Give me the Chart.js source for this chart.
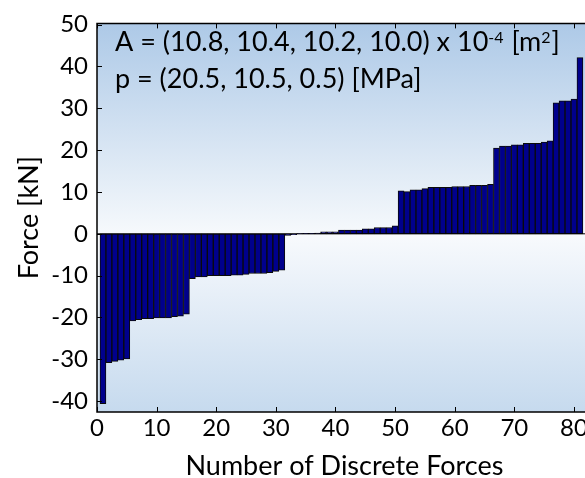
<!DOCTYPE html>
<html>
<head>
<meta charset="utf-8">
<script src="https://cdn.jsdelivr.net/npm/chart.js@4.4.1/dist/chart.umd.min.js"></script>
<style>
  html, body { margin: 0; padding: 0; background: #ffffff; overflow: hidden; }
  #wrap { width: 590px; height: 478px; }
</style>
</head>
<body>
<div id="wrap"><canvas id="chart" width="590" height="478"></canvas></div>
<script>
// Sorted discrete forces [kN]
const forceValues = [
  -40.6,
  -30.8, -30.5, -30.2, -29.9,
  -20.8, -20.5, -20.3, -20.3, -20.1, -20.1, -20.1, -19.8, -19.7, -19.2,
  -10.7, -10.3, -10.3, -10.0, -10.0, -10.0, -10.0, -9.9, -9.9, -9.7, -9.5, -9.5, -9.5, -9.3, -9.0, -8.7,
  -0.4, -0.2,
  0.05, 0.1, 0.1, 0.15,
  0.5, 0.5, 0.5,
  0.9, 0.9, 0.9, 0.9,
  1.2, 1.2,
  1.5, 1.5, 1.5,
  1.9,
  10.3, 10.1, 10.5, 10.5, 10.8, 11.1, 11.1, 11.1, 11.1, 11.3, 11.3, 11.3, 11.6, 11.6, 11.6, 11.8,
  20.5, 21.0, 21.0, 21.3, 21.3, 21.6, 21.6, 21.6, 21.9, 22.2,
  31.3, 31.8, 31.8, 32.2,
  42.1
];
// Force numbers (1-based)
const forceNumbers = forceValues.map((_, i) => i + 1);

const xTickValues = [0, 10, 20, 30, 40, 50, 60, 70, 80];
const yTickValues = [-40, -30, -20, -10, 0, 10, 20, 30, 40, 50];
const xLimits = [0, 82];
const yLimits = [-42.6, 50.3];

const xTitle = 'Number of Discrete Forces';
const yTitle = 'Force [kN]';
const areaText = ['A = (10.8, 10.4, 10.2, 10.0) x 10', '-4', ' [m', '2', ']'];
const pressureText = 'p = (20.5, 10.5, 0.5) [MPa]';

const FONT = 'Lato, "Open Sans", sans-serif';
const tickPx = 24;
const textPx = 27;

const frame = {
  id: 'frame',
  beforeDatasetsDraw(chart) {
    const { ctx, chartArea: a, scales: { y } } = chart;
    const z = y.getPixelForValue(0);
    ctx.save();
    const gTop = ctx.createLinearGradient(0, a.top, 0, z);
    gTop.addColorStop(0, '#adc9e7');
    gTop.addColorStop(1, '#f6f9fc');
    ctx.fillStyle = gTop;
    ctx.fillRect(a.left, a.top, a.right - a.left, z - a.top);
    const gBot = ctx.createLinearGradient(0, z, 0, a.bottom);
    gBot.addColorStop(0, '#f8fafd');
    gBot.addColorStop(1, '#c6daee');
    ctx.fillStyle = gBot;
    ctx.fillRect(a.left, z, a.right - a.left, a.bottom - z);
    ctx.restore();
  },
  afterDatasetsDraw(chart) {
    const { ctx, chartArea: a, scales: { x, y } } = chart;
    const z = y.getPixelForValue(0);
    ctx.save();
    ctx.strokeStyle = '#000';
    // baseline
    ctx.lineWidth = 1;
    ctx.beginPath();
    ctx.moveTo(a.left, z);
    ctx.lineTo(a.right, z);
    ctx.stroke();
    // axes box
    ctx.lineWidth = 1.5;
    ctx.beginPath();
    ctx.moveTo(a.right, a.top);
    ctx.lineTo(a.left, a.top);
    ctx.lineTo(a.left, a.bottom);
    ctx.lineTo(a.right, a.bottom);
    ctx.stroke();
    // inward tick marks
    ctx.lineWidth = 1;
    const tl = 5;
    ctx.beginPath();
    xTickValues.forEach(v => {
      const px = Math.round(x.getPixelForValue(v)) + 0.5;
      ctx.moveTo(px, a.bottom); ctx.lineTo(px, a.bottom - tl);
      ctx.moveTo(px, a.top); ctx.lineTo(px, a.top + tl);
    });
    yTickValues.forEach(v => {
      const py = Math.round(y.getPixelForValue(v)) + 0.5;
      ctx.moveTo(a.left, py); ctx.lineTo(a.left + tl, py);
    });
    ctx.stroke();

    // annotation text
    ctx.fillStyle = '#000';
    ctx.textBaseline = 'alphabetic';
    ctx.textAlign = 'left';
    const big = textPx + 'px ' + FONT;
    const small = '16px ' + FONT;
    let tx = a.left + 18;
    const b1 = 51;
    areaText.forEach((s, i) => {
      const sup = i % 2 === 1;
      ctx.font = sup ? small : big;
      ctx.fillText(s, tx, sup ? b1 - 8 : b1);
      tx += ctx.measureText(s).width + (sup ? 1 : 0);
    });
    ctx.font = big;
    ctx.fillText(pressureText, a.left + 18, 88);

    // axis titles
    ctx.font = big;
    ctx.textAlign = 'center';
    ctx.fillText(xTitle, (a.left + a.right) / 2 + 3, 475);
    ctx.textBaseline = 'middle';
    ctx.translate(29, (a.top + a.bottom) / 2);
    ctx.rotate(-Math.PI / 2);
    ctx.fillText(yTitle, 0, 0);
    ctx.restore();
  }
};

new Chart(document.getElementById('chart'), {
  type: 'bar',
  data: {
    datasets: [{
      data: forceNumbers.map((n, i) => ({ x: n, y: forceValues[i] })),
      backgroundColor: '#00008c',
      borderColor: '#0a0a0a',
      borderWidth: 1,
      borderSkipped: false,
      barPercentage: 1,
      categoryPercentage: 1
    }]
  },
  options: {
    responsive: false,
    devicePixelRatio: 1,
    animation: false,
    layout: { padding: { left: 0, right: 4, top: 17, bottom: 0 } },
    plugins: { legend: { display: false }, tooltip: { enabled: false } },
    scales: {
      x: {
        type: 'linear',
        offset: false,
        min: xLimits[0],
        max: xLimits[1],
        grid: { display: false, drawTicks: false, offset: false },
        border: { display: false },
        afterBuildTicks: s => { s.ticks = xTickValues.map(v => ({ value: v })); },
        afterFit: s => { s.height = 66; },
        ticks: {
          color: '#000',
          padding: 2,
          maxRotation: 0,
          autoSkip: false,
          font: { family: FONT, size: tickPx }
        }
      },
      y: {
        type: 'linear',
        min: yLimits[0],
        max: yLimits[1],
        grid: { display: false, drawTicks: false },
        border: { display: false },
        afterBuildTicks: s => { s.ticks = yTickValues.map(v => ({ value: v })); },
        afterFit: s => { s.width = 97; },
        ticks: {
          color: '#000',
          padding: 9,
          autoSkip: false,
          font: { family: FONT, size: tickPx }
        }
      }
    }
  },
  plugins: [frame]
});
</script>
</body>
</html>
